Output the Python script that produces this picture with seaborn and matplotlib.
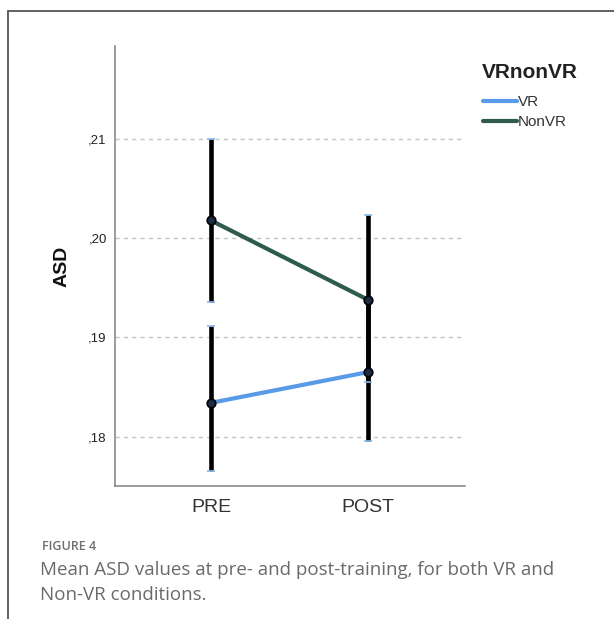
import matplotlib
matplotlib.use("Agg")
import matplotlib.pyplot as plt
import seaborn as sns
import pandas as pd
from matplotlib.lines import Line2D

# ---- data ----
phases = ["PRE", "POST"]
groups = ["VR", "NonVR"]
vr_mean = [0.1834, 0.1865]
vr_low = [0.1765, 0.1795]
vr_high = [0.1912, 0.1935]
nonvr_mean = [0.2018, 0.1938]
nonvr_low = [0.1936, 0.1855]
nonvr_high = [0.2100, 0.2023]
yticks = [0.18, 0.19, 0.20, 0.21]
ytick_labels = [",18", ",19", ",20", ",21"]

df = pd.DataFrame({
    "phase": phases * 2,
    "group": [groups[0]] * 2 + [groups[1]] * 2,
    "ASD": vr_mean + nonvr_mean,
    "low": vr_low + nonvr_low,
    "high": vr_high + nonvr_high,
})

sns.set_theme(style="white")
plt.rcParams["font.family"] = ["Liberation Sans", "DejaVu Sans"]

W, H = 614, 619
fig = plt.figure(figsize=(W / 100, H / 100), dpi=100)
ax = fig.add_axes([115 / W, 1 - 486 / H, (465 - 115) / W, (486 - 46) / H])

palette = {"VR": "#5a9be8", "NonVR": "#2e5a4f"}

# grid
for yv in yticks:
    ax.axhline(yv, color="#c4c4c4", lw=1.0, ls=(0, (3, 3)), zorder=0)

# mean lines
sns.lineplot(data=df, x="phase", y="ASD", hue="group", palette=palette,
             lw=3.0, sort=False, legend=False, ax=ax, zorder=2)

# error bars
xpos = {p: i for i, p in enumerate(phases)}
for _, r in df.iterrows():
    x = xpos[r["phase"]]
    ax.plot([x, x], [r["low"], r["high"]], color="black", lw=3.3,
            solid_capstyle="butt", zorder=3)
    ax.scatter([x, x], [r["low"], r["high"]], marker="_", s=40,
               color="#8bb6e8", linewidths=1.2, zorder=3.5)

# markers
ax.scatter([xpos[p] for p in df["phase"]], df["ASD"], s=38,
           facecolor="#1d2b45", edgecolor="black", linewidths=1.2, zorder=4)

ax.set_xlim(-0.611, 1.618)
ax.set_ylim(0.17501, 0.2194)
ax.set_yticks(yticks)
ax.set_yticklabels(ytick_labels)
ax.set_xticks([0, 1])
ax.set_xticklabels(phases)
ax.tick_params(axis="y", length=0, pad=6, labelsize=9.5, labelcolor="#222222")
ax.tick_params(axis="x", length=0, pad=9, labelsize=14, labelcolor="#333333")
ax.set_xlabel("")
ax.set_ylabel("ASD", fontsize=14, fontweight="bold", color="#111111", labelpad=13)

for s in ["top", "right"]:
    ax.spines[s].set_visible(False)
for s in ["left", "bottom"]:
    ax.spines[s].set_color("#8a8a8a")
    ax.spines[s].set_linewidth(1.2)

# legend
fig.text(482 / W, 1 - 73 / H, "VRnonVR", fontsize=15, fontweight="bold",
         color="#222222", ha="left", va="center")
handles = [Line2D([], [], color=palette[g], lw=3) for g in groups]
leg = fig.legend(handles, ["VR", "NonVR"],
                 loc="upper left", bbox_to_anchor=(483 / W, 1 - 95 / H),
                 frameon=False, handlelength=2.2, handletextpad=0.08,
                 labelspacing=0.42, fontsize=11, borderpad=0,
                 borderaxespad=0)
for t in leg.get_texts():
    t.set_color("#333333")

# figure frame lines (top and left)
fig.add_artist(Line2D([7.5 / W, 7.5 / W], [0, 1 - 10.5 / H], transform=fig.transFigure,
                      color="#555555", lw=1.3))
fig.add_artist(Line2D([7.5 / W, 1], [1 - 10.5 / H, 1 - 10.5 / H], transform=fig.transFigure,
                      color="#555555", lw=1.3))

# caption
cap_font = ["Open Sans", "DejaVu Sans"]
fig.text(42 / W, 1 - 547 / H, "FIGURE 4", fontsize=9, fontweight="semibold",
         color="#6e6e6e", va="center", ha="left", family=cap_font)
fig.text(40 / W, 1 - 570 / H, "Mean ASD values at pre- and post-training, for both VR and",
         fontsize=13.5, color="#6a6a6a", va="center", ha="left", family=cap_font)
fig.text(40 / W, 1 - 595 / H, "Non-VR conditions.",
         fontsize=13.5, color="#6a6a6a", va="center", ha="left", family=cap_font)

fig.savefig("out.png", dpi=100)
